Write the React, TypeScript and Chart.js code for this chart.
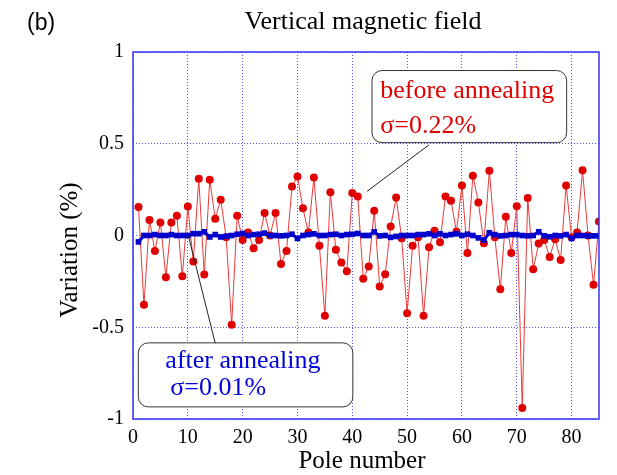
import React, { useEffect, useRef } from "react";
import { Chart, registerables } from "chart.js";

Chart.register(...registerables);

const poleNumbers: number[] = Array.from({ length: 85 }, (_, i) => i + 1);

const beforeAnnealing: number[] = [
  0.155, -0.378, 0.085, -0.084, 0.071, -0.227, 0.071, 0.107, -0.222, 0.158,
  -0.142, 0.309, -0.213, 0.304, 0.091, 0.195, -0.01, -0.487, 0.107, -0.025,
  0.016, -0.069, -0.024, 0.122, 0.0, 0.122, -0.155, -0.084, 0.267, 0.322,
  0.149, 0.016, 0.316, -0.056, -0.438, 0.236, -0.078, -0.147, -0.195, 0.231,
  0.213, -0.236, -0.169, 0.135, -0.278, -0.211, 0.049, 0.207, -0.015, -0.424,
  -0.056, -0.01, -0.438, -0.064, 0.026, -0.037, 0.213, 0.19, 0.02, 0.273,
  -0.096, 0.326, 0.18, -0.042, 0.353, -0.01, -0.293, 0.102, -0.095, 0.16,
  -0.94, 0.205, -0.184, -0.044, -0.024, -0.117, -0.02, -0.133, 0.273, -0.01,
  0.017, 0.356, 0.0, -0.269, 0.076,
];

const afterAnnealing: number[] = [
  -0.035, 0.0, 0.0, 0.005, 0.0, 0.0, 0.005, 0.0, 0.0, 0.0,
  0.01, 0.01, 0.02, -0.008, 0.005, -0.008, -0.004, 0.0, 0.007, 0.011,
  0.0, 0.005, 0.007, 0.013, 0.0, 0.0, -0.002, 0.0, 0.007, -0.016,
  0.0, 0.005, 0.009, 0.0, 0.0, 0.005, 0.007, 0.0, 0.005, 0.007,
  0.011, 0.0, 0.0, 0.02, -0.002, 0.0, -0.01, -0.005, 0.0, 0.0,
  0.0, 0.005, 0.005, 0.009, 0.0, 0.009, 0.0, 0.005, 0.009, 0.0,
  0.007, 0.0, -0.013, -0.025, 0.015, 0.005, -0.002, 0.0, 0.005, 0.005,
  0.0, -0.002, 0.0, 0.02, -0.002, -0.007, 0.0, -0.002, 0.005, -0.016,
  0.0, 0.0, -0.002, -0.002, -0.002,
];

const xTickMax = 85;
const yTickValues: number[] = [-1, -0.5, 0, 0.5, 1];
const yTickLabels: string[] = ["-1", "-0.5", "0", "0.5", "1"];

const SERIF = "'Liberation Serif', 'Times New Roman', serif";

const annotations = {
  before: {
    box: { x0: 43.6, x1: 79.1, y0: 0.899, y1: 0.506 },
    lines: [
      { text: "before annealing", x: 45.1, y: 0.751 },
      { text: "\u03c3=0.22%", x: 45.1, y: 0.56 },
    ],
    leader: { x0: 54.0, y0: 0.494, x1: 42.7, y1: 0.241 },
    color: "#e00000",
  },
  after: {
    box: { x0: 0.97, x1: 40.1, y0: -0.585, y1: -0.934 },
    lines: [
      { text: "after annealing", x: 5.9, y: -0.722 },
      { text: "\u03c3=0.01%", x: 6.8, y: -0.868 },
    ],
    leader: { x0: 15.0, y0: -0.587, x1: 10.13, y1: -0.005 },
    color: "#0000dd",
  },
};

function roundRect(ctx: CanvasRenderingContext2D, x: number, y: number, w: number, h: number, r: number) {
  ctx.beginPath();
  ctx.moveTo(x + r, y);
  ctx.lineTo(x + w - r, y);
  ctx.arcTo(x + w, y, x + w, y + r, r);
  ctx.lineTo(x + w, y + h - r);
  ctx.arcTo(x + w, y + h, x + w - r, y + h, r);
  ctx.lineTo(x + r, y + h);
  ctx.arcTo(x, y + h, x, y + h - r, r);
  ctx.lineTo(x, y + r);
  ctx.arcTo(x, y, x + r, y, r);
  ctx.closePath();
}

const decorPlugin = {
  id: "decor",
  beforeDraw(chart: any) {
    const { ctx, width, height } = chart;
    ctx.save();
    ctx.fillStyle = "#ffffff";
    ctx.fillRect(0, 0, width, height);
    ctx.restore();
  },
  afterDatasetsDraw(chart: any) {
    const { ctx, scales } = chart;
    const xs = scales.x;
    const ys = scales.y;
    ctx.save();
    for (const key of Object.keys(annotations)) {
      const a = (annotations as any)[key];
      const bx0 = xs.getPixelForValue(a.box.x0);
      const bx1 = xs.getPixelForValue(a.box.x1);
      const by0 = ys.getPixelForValue(a.box.y0);
      const by1 = ys.getPixelForValue(a.box.y1);
      roundRect(ctx, bx0, by0, bx1 - bx0, by1 - by0, 10);
      ctx.fillStyle = "#ffffff";
      ctx.fill();
      ctx.strokeStyle = "#333333";
      ctx.lineWidth = 1;
      ctx.stroke();
      ctx.beginPath();
      ctx.moveTo(xs.getPixelForValue(a.leader.x0), ys.getPixelForValue(a.leader.y0));
      ctx.lineTo(xs.getPixelForValue(a.leader.x1), ys.getPixelForValue(a.leader.y1));
      ctx.strokeStyle = "#222222";
      ctx.lineWidth = 1;
      ctx.stroke();
      ctx.fillStyle = a.color;
      ctx.font = `26px ${SERIF}`;
      ctx.textAlign = "left";
      ctx.textBaseline = "alphabetic";
      for (const l of a.lines) {
        ctx.fillText(l.text, xs.getPixelForValue(l.x), ys.getPixelForValue(l.y));
      }
    }
    ctx.restore();
  },
  afterDraw(chart: any) {
    const { ctx, chartArea } = chart;
    const { left, right, top, bottom } = chartArea;
    ctx.save();
    ctx.strokeStyle = "#3535f0";
    ctx.lineWidth = 1.5;
    ctx.strokeRect(left, top, right - left, bottom - top);

    ctx.fillStyle = "#000000";
    ctx.font = `26px ${SERIF}`;
    ctx.textAlign = "center";
    ctx.textBaseline = "alphabetic";
    ctx.fillText("Vertical magnetic field", 363, 29);

    ctx.font = "23px 'Liberation Sans', Arial, sans-serif";
    ctx.textAlign = "left";
    ctx.fillText("(b)", 27, 30);

    ctx.font = `25px ${SERIF}`;
    ctx.textAlign = "center";
    ctx.textBaseline = "middle";
    ctx.fillText("Pole number", 362, 461);

    ctx.translate(70, 250);
    ctx.rotate(-Math.PI / 2);
    ctx.fillText("Variation (%)", 0, 0);
    ctx.restore();
  },
};

export default function App() {
  const canvasRef = useRef<HTMLCanvasElement | null>(null);

  useEffect(() => {
    if (!canvasRef.current) return;
    const chart = new Chart(canvasRef.current, {
      type: "line",
      data: {
        datasets: [
          {
            label: "after annealing",
            data: poleNumbers.map((p, i) => ({ x: p, y: afterAnnealing[i] })),
            borderColor: "#0000cc",
            backgroundColor: "#0000cc",
            borderWidth: 3,
            pointStyle: "rect",
            pointRadius: 4,
            pointBorderWidth: 0,
            tension: 0,
          },
          {
            label: "before annealing",
            data: poleNumbers.map((p, i) => ({ x: p, y: beforeAnnealing[i] })),
            borderColor: "#ec3a3a",
            backgroundColor: "#e00000",
            borderWidth: 1,
            pointStyle: "circle",
            pointRadius: 4,
            pointBorderWidth: 0,
            tension: 0,
          },
        ],
      },
      options: {
        responsive: false,
        animation: false,
        layout: { padding: { top: 52, right: 18, left: 0, bottom: 0 } },
        plugins: {
          legend: { display: false },
          tooltip: { enabled: false },
          title: { display: false },
        },
        scales: {
          x: {
            type: "linear",
            min: 0,
            max: xTickMax,
            afterFit: (scale: any) => {
              scale.height = 56;
            },
            ticks: {
              stepSize: 10,
              includeBounds: false,
              padding: 7,
              color: "#000000",
              font: { family: SERIF, size: 20 },
              maxRotation: 0,
            },
            grid: { color: "#5050ff", lineWidth: 1, drawTicks: false },
            border: { display: false, dash: [1, 2] },
          },
          y: {
            type: "linear",
            min: yTickValues[0],
            max: yTickValues[yTickValues.length - 1],
            afterFit: (scale: any) => {
              scale.width = 133;
            },
            afterBuildTicks: (scale: any) => {
              scale.ticks = yTickValues.map((v) => ({ value: v }));
            },
            ticks: {
              padding: 9,
              color: "#000000",
              font: { family: SERIF, size: 20 },
              callback: (value: any) => {
                const idx = yTickValues.indexOf(Number(value));
                return idx >= 0 ? yTickLabels[idx] : String(value);
              },
            },
            grid: { color: "#5050ff", lineWidth: 1, drawTicks: false },
            border: { display: false, dash: [1, 2] },
          },
        },
      },
      plugins: [decorPlugin],
    } as any);
    return () => chart.destroy();
  }, []);

  return (
    <div style={{ position: "fixed", left: 0, top: 0, width: 617, height: 475 }}>
      <canvas ref={canvasRef} width={617} height={475} style={{ width: 617, height: 475 }} />
    </div>
  );
}
